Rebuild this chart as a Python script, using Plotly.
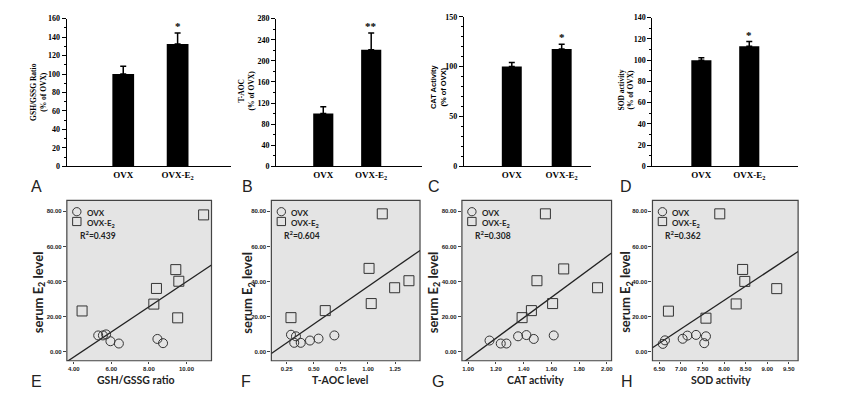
import plotly.graph_objects as go

W, H = 851, 399

# ---------------- data: bar panels (A-D) ----------------
groups = ["OVX", "OVX-E<sub>2</sub>"]

gsh_mean = [100, 132.5]
gsh_err = [8.5, 12]
gsh_sig = ["", "*"]

taoc_mean = [100, 221]
taoc_err = [13, 32]
taoc_sig = ["", "**"]

cat_mean = [100, 117.5]
cat_err = [4, 5]
cat_sig = ["", "*"]

sod_mean = [100, 113]
sod_err = [2.2, 4.5]
sod_sig = ["", "*"]

# ---------------- data: scatter panels (E-H) ----------------
gsh_ovx_x = [5.30, 5.55, 5.72, 5.95, 6.40, 8.45, 8.75]
gsh_ovx_y = [9.4, 9.4, 10.0, 6.1, 4.8, 7.4, 5.0]
gsh_e2_x = [10.91, 9.43, 9.59, 8.40, 8.26, 9.53, 4.44]
gsh_e2_y = [77.9, 46.8, 40.2, 36.1, 27.2, 19.4, 23.3]
gsh_fit = [7.13, -31.4]      # slope, intercept
gsh_r2 = "0.439"

taoc_ovx_x = [0.29, 0.336, 0.32, 0.38, 0.465, 0.544, 0.69]
taoc_ovx_y = [9.8, 8.9, 5.2, 5.2, 6.5, 7.6, 9.4]
taoc_e2_x = [1.132, 1.01, 1.378, 1.246, 1.03, 0.606, 0.29]
taoc_e2_y = [78.5, 47.5, 40.5, 36.5, 27.5, 23.5, 19.5]
taoc_fit = [42.7, -5.5]
taoc_r2 = "0.604"

cat_ovx_x = [1.154, 1.235, 1.276, 1.36, 1.42, 1.473, 1.617]
cat_ovx_y = [6.5, 4.8, 4.8, 8.9, 9.6, 7.4, 9.4]
cat_e2_x = [1.557, 1.689, 1.496, 1.933, 1.609, 1.456, 1.389]
cat_e2_y = [78.5, 47.2, 40.5, 36.5, 27.5, 23.5, 19.5]
cat_fit = [58.2, -62.1]
cat_r2 = "0.308"

sod_ovx_x = [6.58, 6.63, 7.04, 7.15, 7.35, 7.58, 7.54]
sod_ovx_y = [4.6, 6.6, 7.5, 9.3, 9.7, 8.9, 5.0]
sod_e2_x = [7.90, 8.43, 8.48, 9.22, 8.28, 6.71, 7.58]
sod_e2_y = [78.5, 46.9, 40.1, 36.0, 27.3, 23.2, 19.2]
sod_fit = [16.2, -100.3]
sod_r2 = "0.362"


def px(x):
    return x / W


def py(y):
    return 1 - y / H


SERIF = "Liberation Serif"
SANS = "Liberation Sans"
SPSS = "Lato"

fig = go.Figure()
annotations = []
shapes = []
layout_axes = {}

# ---------------- bar panels ----------------
bar_panels = [
    ("1", gsh_mean, gsh_err, gsh_sig, (67, 232), (15, 166), [-1.037, 1.99], 160, 20, 10, 0.40,
     "GSH/GSSG Ratio<br>(% of OVX)", SERIF, 39, 90, "A", 37),
    ("2", taoc_mean, taoc_err, taoc_sig, (277, 423), (15, 166), [-0.979, 2.06], 280, 40, 20, 0.42,
     "T-AOC<br>(% of OVX)", SERIF, 247, 88, "B", 248),
    ("3", cat_mean, cat_err, cat_sig, (465, 592), (13, 166), [-0.96, 1.58], 150, 50, 10, 0.40,
     "CAT Activity<br>(% of OVX)", SANS, 439, 84, "C", 435),
    ("4", sod_mean, sod_err, sod_sig, (654, 800), (14, 166), [-1.021, 2.02], 140, 20, 10, 0.42,
     "SOD activity<br>(% of OVX)", SERIF, 627, 88, "D", 627),
]

for (n, means, errs, sig, xd, yd, xr, ymax, dt, mdt, bw, ytitle, tfont, tx, ty, letter, lx) in bar_panels:
    xa = "x" if n == "1" else "x" + n
    ya = "y" if n == "1" else "y" + n
    fig.add_trace(go.Bar(
        x=[0, 1], y=means, width=bw, xaxis=xa, yaxis=ya,
        marker=dict(color="black", line=dict(width=0)),
        error_y=dict(type="data", array=errs, arrayminus=[0, 0], symmetric=False,
                     color="black", thickness=1.5, width=3),
        showlegend=False,
    ))
    for i, s in enumerate(sig):
        if s:
            annotations.append(dict(
                x=i, y=means[i] + errs[i], xref=xa, yref=ya, text="<b>%s</b>" % s,
                showarrow=False, yanchor="bottom", yshift=-1,
                font=dict(family=SERIF, size=11, color="black")))
    layout_axes["xaxis" + ("" if n == "1" else n)] = dict(
        domain=[px(xd[0]), px(xd[1])], anchor=ya, range=xr,
        showline=True, linecolor="black", linewidth=1.3, ticks="",
        tickvals=[0, 1], ticktext=["<b>%s</b>" % g for g in groups],
        tickfont=dict(family=SERIF, size=9, color="black"),
        showgrid=False, zeroline=False, fixedrange=True)
    layout_axes["yaxis" + ("" if n == "1" else n)] = dict(
        domain=[py(yd[1]), py(yd[0])], anchor=xa, range=[0, ymax],
        showline=True, linecolor="black", linewidth=1.3,
        ticks="outside", ticklen=4, tickwidth=1, tickcolor="black", dtick=dt, tick0=0,
        minor=dict(dtick=mdt, ticks="outside", ticklen=2, tickcolor="black", tickwidth=1),
        tickfont=dict(family=SERIF, size=8, color="black", weight="bold"),
        showgrid=False, zeroline=False, fixedrange=True)
    annotations.append(dict(
        x=px(tx), y=py(ty), xref="paper", yref="paper", text="<b>%s</b>" % ytitle,
        textangle=-90, showarrow=False, xanchor="center", yanchor="middle",
        font=dict(family=tfont, size=7.5, color="black")))
    annotations.append(dict(
        x=px(lx), y=py(187), xref="paper", yref="paper", text=letter,
        showarrow=False, xanchor="center", yanchor="middle",
        font=dict(family=SANS, size=16, color="#222")))

# ---------------- scatter panels ----------------
scatter_panels = [
    ("5", gsh_ovx_x, gsh_ovx_y, gsh_e2_x, gsh_e2_y, gsh_fit, gsh_r2, (67, 212), [3.63, 11.33],
     dict(tick0=4, dtick=2), "%.2f", "GSH/GSSG ratio", 136, 39, "E", 37),
    ("6", taoc_ovx_x, taoc_ovx_y, taoc_e2_x, taoc_e2_y, taoc_fit, taoc_r2, (272, 421), [0.109, 1.48],
     dict(tick0=0.25, dtick=0.25), "%.2f", "T-AOC level", 341, 249, "F", 247),
    ("7", cat_ovx_x, cat_ovx_y, cat_e2_x, cat_e2_y, cat_fit, cat_r2, (463, 613), [0.955, 2.034],
     dict(tick0=1.0, dtick=0.2), "%.2f", "CAT activity", 537, 435, "G", 439),
    ("8", sod_ovx_x, sod_ovx_y, sod_e2_x, sod_e2_y, sod_fit, sod_r2, (654, 800), [6.34, 9.716],
     dict(tick0=6.5, dtick=0.5), "%.2f", "SOD activity", 723, 628, "H", 628),
]

SY = (201, 365)
YR = [-5, 86.1]
mk_line = dict(color="#333333", width=1)
sym_line = dict(color="#333333", width=1)

for (n, ox, oy, ex, ey, fit, r2, xd, xr, tk, fmt, xtitle, xtx, ytx, letter, lx) in scatter_panels:
    xa, ya = "x" + n, "y" + n
    shapes.append(dict(type="rect", xref=xa + " domain", yref=ya + " domain",
                       x0=0, x1=1, y0=0, y1=1, fillcolor="#e4e4e4",
                       line=dict(color="#444444", width=1.2), layer="below"))
    xs = [xr[0], xr[1]]
    fig.add_trace(go.Scatter(
        x=xs, y=[fit[0] * v + fit[1] for v in xs], mode="lines",
        line=dict(color="#222222", width=1.3), xaxis=xa, yaxis=ya, showlegend=False,
        hoverinfo="skip"))
    fig.add_trace(go.Scatter(
        x=ox, y=oy, mode="markers", xaxis=xa, yaxis=ya, showlegend=False,
        marker=dict(symbol="circle-open", size=9, line=mk_line, color="#333333")))
    fig.add_trace(go.Scatter(
        x=ex, y=ey, mode="markers", xaxis=xa, yaxis=ya, showlegend=False,
        marker=dict(symbol="square-open", size=10, line=mk_line, color="#333333")))
    tickvals = []
    v = tk["tick0"]
    while v <= xr[1] + 1e-9:
        tickvals.append(round(v, 4))
        v += tk["dtick"]
    layout_axes["xaxis" + n] = dict(
        domain=[px(xd[0]), px(xd[1])], anchor=ya, range=xr,
        showline=False, ticks="outside", ticklen=2, tickcolor="#444",
        tickvals=tickvals, ticktext=[fmt % t for t in tickvals],
        tickfont=dict(family=SANS, size=6, color="#222", weight="bold"),
        showgrid=False, zeroline=False, fixedrange=True)
    layout_axes["yaxis" + n] = dict(
        domain=[py(SY[1]), py(SY[0])], anchor=xa, range=YR,
        showline=False, ticks="outside", ticklen=3, tickcolor="#444",
        tickvals=[0, 20, 40, 60, 80], ticktext=["0.00", "20.00", "40.00", "60.00", "80.00"],
        tickfont=dict(family=SANS, size=6, color="#222", weight="bold"),
        showgrid=False, zeroline=False, fixedrange=True)
    # in-panel legend: key shapes + one text block
    bx = xd[0]
    cx, c1, c2 = bx + 10, SY[0] + 11.5, SY[0] + 21.5
    shapes.append(dict(type="circle", xref="paper", yref="paper",
                       x0=px(cx - 4.2), x1=px(cx + 4.2), y0=py(c1 + 4.2), y1=py(c1 - 4.2),
                       line=sym_line, fillcolor="rgba(0,0,0,0)"))
    shapes.append(dict(type="rect", xref="paper", yref="paper",
                       x0=px(cx - 4.2), x1=px(cx + 4.2), y0=py(c2 + 4.2), y1=py(c2 - 4.2),
                       line=sym_line, fillcolor="rgba(0,0,0,0)"))
    annotations.append(dict(
        x=px(bx + 18), y=py(SY[0] + 5.5), xref="paper", yref="paper",
        text="<b>OVX</b><br><b>OVX-E<sub>2</sub></b>", showarrow=False,
        xanchor="left", yanchor="top", align="left",
        font=dict(family=SPSS, size=8, color="#222")))
    annotations.append(dict(
        x=px(bx + 11), y=py(SY[0] + 35), xref="paper", yref="paper",
        text="<b>R<sup>2</sup>=%s</b>" % r2, showarrow=False, xanchor="left", yanchor="middle",
        font=dict(family=SPSS, size=8.5, color="#222")))
    annotations.append(dict(
        x=px(xtx), y=py(385), xref="paper", yref="paper", text="<b>%s</b>" % xtitle,
        showarrow=False, xanchor="center", yanchor="middle",
        font=dict(family=SPSS, size=10.5, color="#222")))
    annotations.append(dict(
        x=px(ytx), y=py(295), xref="paper", yref="paper", text="<b>serum E<sub>2</sub> level</b>",
        textangle=-90, showarrow=False, xanchor="center", yanchor="middle",
        font=dict(family=SPSS, size=13, color="#222")))
    annotations.append(dict(
        x=px(lx), y=py(386), xref="paper", yref="paper", text=letter,
        showarrow=False, xanchor="center", yanchor="middle",
        font=dict(family=SANS, size=16, color="#222")))

fig.update_layout(
    width=W, height=H, margin=dict(l=0, r=0, t=0, b=0),
    paper_bgcolor="white", plot_bgcolor="white",
    showlegend=False, annotations=annotations, shapes=shapes,
    **layout_axes,
)

fig.write_html("out.html", config={"displayModeBar": False},
               post_script="document.body.style.margin='0px';")
